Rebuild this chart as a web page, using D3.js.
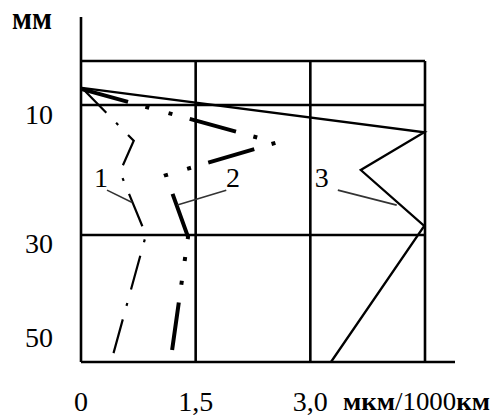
<!DOCTYPE html>
<html><head><meta charset="utf-8">
<script src="https://cdn.jsdelivr.net/npm/d3@7"></script>
<style>body{margin:0;background:#fff} svg{display:block}</style>
</head><body>
<svg id="c" width="492" height="416"></svg>
<script>
// ---- data ----
const xTickValues = [0, 1.5, 3.0];
const xTickLabels = ["0", "1,5", "3,0"];
const xGridValues = [1.5, 3.0, 4.5];
const yGridValues = [0, 10, 30, 50];
const yTickLabels = ["10", "30", "50"];
const yTickLabelDepth = [11.4, 31.3, 46.2];
const xUnitParts = ["мкм", "/1000", "км"];
const yUnitLabel = "мм";

const curve1X = [0.01, 0.69, 0.51, 0.85, 0.38];
const curve1Depth = [6.1, 15.5, 20.3, 30.0, 50.6];
const curve2X = [0.01, 2.55, 1.11, 1.40, 1.17];
const curve2Depth = [6.4, 15.8, 20.8, 30.3, 50.0];
const curve3X = [0.01, 4.49, 3.66, 4.49, 3.27];
const curve3Depth = [6.1, 14.2, 20.0, 28.6, 50.0];

const curveNames = ["1", "2", "3"];
const curveLabelX = [0.26, 1.99, 3.15];
const curveLabelDepth = [22.6, 22.6, 22.6];
const leaderFromX = [0.34, 1.26, 3.36];
const leaderFromDepth = [23.1, 25.4, 23.1];
const leaderToX = [0.67, 1.90, 4.13];
const leaderToDepth = [25.0, 23.1, 25.4];

// ---- scales ----
const svg = d3.select("#c");
const x = d3.scaleLinear().domain([0, 4.5]).range([81, 425]);
const y = d3.scaleLinear().domain([0, 10, 30, 50]).range([61, 105, 235, 362]);

const serif = "'Liberation Serif','Times New Roman',serif";

// ---- grid ----
const g = svg.append("g").attr("stroke", "#000").attr("stroke-width", 2.6);
g.selectAll("line.h").data(yGridValues).join("line")
  .attr("x1", x(0)).attr("x2", (d, i) => i === yGridValues.length - 1 ? 455 : x(4.5))
  .attr("y1", d => y(d)).attr("y2", d => y(d));
g.selectAll("line.v").data(xGridValues).join("line")
  .attr("x1", d => x(d)).attr("x2", d => x(d))
  .attr("y1", y(0)).attr("y2", y(50));
g.append("line").attr("x1", x(0)).attr("x2", x(0)).attr("y1", 17).attr("y2", y(50));

// ---- curves ----
const line = d3.line().x(d => x(d[0])).y(d => y(d[1]));
const zip = (a, b) => a.map((v, i) => [v, b[i]]);

svg.append("path").datum(zip(curve3X, curve3Depth))
  .attr("d", line).attr("fill", "none").attr("stroke", "#000")
  .attr("stroke-width", 2.3).attr("stroke-linejoin", "miter");
svg.append("path").datum(zip(curve2X, curve2Depth))
  .attr("d", line).attr("fill", "none").attr("stroke", "#000")
  .attr("stroke-width", 4).attr("stroke-dasharray", "48,18,4,20,4,18");
svg.append("path").datum(zip(curve1X, curve1Depth))
  .attr("d", line).attr("fill", "none").attr("stroke", "#000")
  .attr("stroke-width", 2.2).attr("stroke-dasharray", "35,14,3,14");

// leaders
svg.selectAll("line.leader").data(curveNames).join("line")
  .attr("x1", (d, i) => x(leaderFromX[i])).attr("y1", (d, i) => y(leaderFromDepth[i]))
  .attr("x2", (d, i) => x(leaderToX[i])).attr("y2", (d, i) => y(leaderToDepth[i]))
  .attr("stroke", "#333").attr("stroke-width", 1.6);

// curve labels
svg.selectAll("text.cl").data(curveNames).join("text")
  .attr("x", (d, i) => x(curveLabelX[i])).attr("y", (d, i) => y(curveLabelDepth[i]))
  .attr("text-anchor", "middle").attr("font-family", serif).attr("font-size", 28)
  .text(d => d);

// y labels
svg.selectAll("text.yl").data(yTickLabels).join("text")
  .attr("x", 53).attr("y", (d, i) => y(yTickLabelDepth[i])).attr("dy", "0.34em")
  .attr("text-anchor", "end").attr("font-family", serif).attr("font-size", 28)
  .text(d => d);
svg.append("text").attr("x", 12).attr("y", 29).attr("font-family", serif)
  .attr("font-size", 31).attr("font-weight", "bold")
  .attr("textLength", 40).attr("lengthAdjust", "spacingAndGlyphs").text(yUnitLabel);

// x labels
svg.selectAll("text.xl").data(xTickLabels).join("text")
  .attr("x", (d, i) => x(xTickValues[i])).attr("y", 411)
  .attr("text-anchor", "middle").attr("font-family", serif).attr("font-size", 28)
  .text(d => d);
const unit = svg.append("text").attr("x", 343).attr("y", 410).attr("font-family", serif)
  .attr("font-size", 26).attr("textLength", 147).attr("lengthAdjust", "spacingAndGlyphs");
unit.selectAll("tspan").data(xUnitParts).join("tspan")
  .attr("font-weight", (d, i) => i === 1 ? "normal" : "bold")
  .text(d => d);
</script>
</body></html>
